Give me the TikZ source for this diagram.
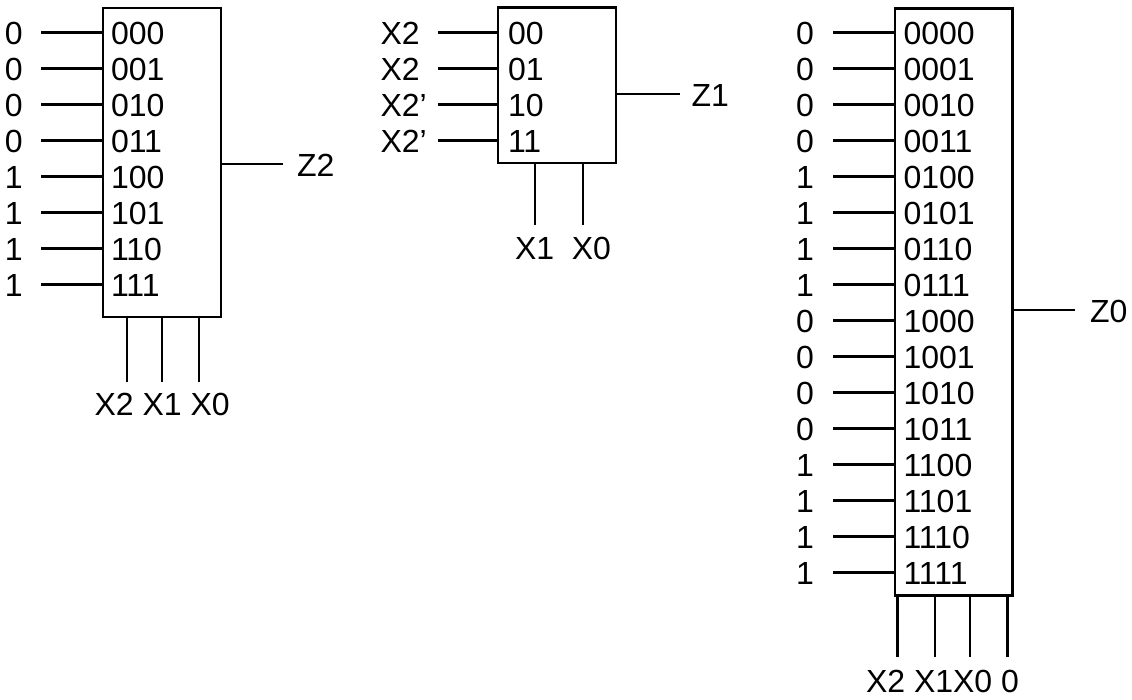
\documentclass[tikz,border=0pt]{standalone}
\usepackage{fontspec}
\setmainfont{Liberation Sans}
\tikzset{
  muxbox/.style={draw, rectangle, line width=2.8pt, inner sep=0pt, outer sep=0pt},
  wire/.style={line width=2.8pt},
  lbl/.style={anchor=west, inner sep=0pt, outer sep=0pt, font=\fontsize{32}{38}\selectfont},
}
\begin{document}
\begin{tikzpicture}[x=1pt, y=-1pt]
\useasboundingbox (0,0) rectangle (1132,700);

% Left multiplexer, output Z2
\node[muxbox, minimum width=118pt, minimum height=309pt] (muxA) at (162, 162.5) {};
\node[lbl] (a0v) at (5, 33) {0};
\draw[wire] (41, 32.5) coordinate (a0) -- (a0 -| muxA.west);
\node[lbl] (a0s) at (111, 33) {000};
\node[lbl] (a1v) at (5, 69) {0};
\draw[wire] (41, 68.5) coordinate (a1) -- (a1 -| muxA.west);
\node[lbl] (a1s) at (111, 69) {001};
\node[lbl] (a2v) at (5, 105) {0};
\draw[wire] (41, 104.5) coordinate (a2) -- (a2 -| muxA.west);
\node[lbl] (a2s) at (111, 105) {010};
\node[lbl] (a3v) at (5, 141) {0};
\draw[wire] (41, 140.5) coordinate (a3) -- (a3 -| muxA.west);
\node[lbl] (a3s) at (111, 141) {011};
\node[lbl] (a4v) at (5, 177) {1};
\draw[wire] (41, 176.5) coordinate (a4) -- (a4 -| muxA.west);
\node[lbl] (a4s) at (111, 177) {100};
\node[lbl] (a5v) at (5, 213) {1};
\draw[wire] (41, 212.5) coordinate (a5) -- (a5 -| muxA.west);
\node[lbl] (a5s) at (111, 213) {101};
\node[lbl] (a6v) at (5, 249) {1};
\draw[wire] (41, 248.5) coordinate (a6) -- (a6 -| muxA.west);
\node[lbl] (a6s) at (111, 249) {110};
\node[lbl] (a7v) at (5, 285) {1};
\draw[wire] (41, 284.5) coordinate (a7) -- (a7 -| muxA.west);
\node[lbl] (a7s) at (111, 285) {111};
\draw[wire] (283, 164) coordinate (aout) -- (aout -| muxA.east);
\node[lbl] (aZ) at (297, 165) {Z2};
\draw[wire] (127, 382) coordinate (aS2) -- (aS2 |- muxA.south);
\draw[wire] (162, 382) coordinate (aS1) -- (aS1 |- muxA.south);
\draw[wire] (199, 382) coordinate (aS0) -- (aS0 |- muxA.south);
\node[lbl] (aSel) at (94.5, 404) {X2 X1 X0};

% Middle multiplexer, output Z1
\node[muxbox, minimum width=118pt, minimum height=155.5pt] (muxB) at (557, 85.25) {};
\node[lbl] (b0v) at (380.5, 33) {X2};
\draw[wire] (438, 32.5) coordinate (b0) -- (b0 -| muxB.west);
\node[lbl] (b0s) at (508, 33) {00};
\node[lbl] (b1v) at (380.5, 69) {X2};
\draw[wire] (438, 68.5) coordinate (b1) -- (b1 -| muxB.west);
\node[lbl] (b1s) at (508, 69) {01};
\node[lbl] (b2v) at (380.5, 105) {X2’};
\draw[wire] (438, 104.5) coordinate (b2) -- (b2 -| muxB.west);
\node[lbl] (b2s) at (508, 105) {10};
\node[lbl] (b3v) at (380.5, 141) {X2’};
\draw[wire] (438, 140.5) coordinate (b3) -- (b3 -| muxB.west);
\node[lbl] (b3s) at (508, 141) {11};
\draw[wire] (680, 94) coordinate (bout) -- (bout -| muxB.east);
\node[lbl] (bZ) at (691.5, 95) {Z1};
\draw[wire] (535, 225) coordinate (bS1) -- (bS1 |- muxB.south);
\draw[wire] (583, 225) coordinate (bS0) -- (bS0 |- muxB.south);
\node[lbl] (bSel) at (515, 248.5) {X1\ \ X0};

% Right multiplexer, output Z0
\node[muxbox, minimum width=117.5pt, minimum height=587pt] (muxC) at (953.75, 301.7) {};
\node[lbl] (c0v) at (796, 33) {0};
\draw[wire] (833, 32.5) coordinate (c0) -- (c0 -| muxC.west);
\node[lbl] (c0s) at (903.5, 33) {0000};
\node[lbl] (c1v) at (796, 69) {0};
\draw[wire] (833, 68.5) coordinate (c1) -- (c1 -| muxC.west);
\node[lbl] (c1s) at (903.5, 69) {0001};
\node[lbl] (c2v) at (796, 105) {0};
\draw[wire] (833, 104.5) coordinate (c2) -- (c2 -| muxC.west);
\node[lbl] (c2s) at (903.5, 105) {0010};
\node[lbl] (c3v) at (796, 141) {0};
\draw[wire] (833, 140.5) coordinate (c3) -- (c3 -| muxC.west);
\node[lbl] (c3s) at (903.5, 141) {0011};
\node[lbl] (c4v) at (796, 177) {1};
\draw[wire] (833, 176.5) coordinate (c4) -- (c4 -| muxC.west);
\node[lbl] (c4s) at (903.5, 177) {0100};
\node[lbl] (c5v) at (796, 213) {1};
\draw[wire] (833, 212.5) coordinate (c5) -- (c5 -| muxC.west);
\node[lbl] (c5s) at (903.5, 213) {0101};
\node[lbl] (c6v) at (796, 249) {1};
\draw[wire] (833, 248.5) coordinate (c6) -- (c6 -| muxC.west);
\node[lbl] (c6s) at (903.5, 249) {0110};
\node[lbl] (c7v) at (796, 285) {1};
\draw[wire] (833, 284.5) coordinate (c7) -- (c7 -| muxC.west);
\node[lbl] (c7s) at (903.5, 285) {0111};
\node[lbl] (c8v) at (796, 321) {0};
\draw[wire] (833, 320.5) coordinate (c8) -- (c8 -| muxC.west);
\node[lbl] (c8s) at (903.5, 321) {1000};
\node[lbl] (c9v) at (796, 357) {0};
\draw[wire] (833, 356.5) coordinate (c9) -- (c9 -| muxC.west);
\node[lbl] (c9s) at (903.5, 357) {1001};
\node[lbl] (c10v) at (796, 393) {0};
\draw[wire] (833, 392.5) coordinate (c10) -- (c10 -| muxC.west);
\node[lbl] (c10s) at (903.5, 393) {1010};
\node[lbl] (c11v) at (796, 429) {0};
\draw[wire] (833, 428.5) coordinate (c11) -- (c11 -| muxC.west);
\node[lbl] (c11s) at (903.5, 429) {1011};
\node[lbl] (c12v) at (796, 465) {1};
\draw[wire] (833, 464.5) coordinate (c12) -- (c12 -| muxC.west);
\node[lbl] (c12s) at (903.5, 465) {1100};
\node[lbl] (c13v) at (796, 501) {1};
\draw[wire] (833, 500.5) coordinate (c13) -- (c13 -| muxC.west);
\node[lbl] (c13s) at (903.5, 501) {1101};
\node[lbl] (c14v) at (796, 537) {1};
\draw[wire] (833, 536.5) coordinate (c14) -- (c14 -| muxC.west);
\node[lbl] (c14s) at (903.5, 537) {1110};
\node[lbl] (c15v) at (796, 573) {1};
\draw[wire] (833, 572.5) coordinate (c15) -- (c15 -| muxC.west);
\node[lbl] (c15s) at (903.5, 573) {1111};
\draw[wire] (1075, 310) coordinate (cout) -- (cout -| muxC.east);
\node[lbl] (cZ) at (1090, 311) {Z0};
\draw[wire] (897.5, 657) coordinate (cS3) -- (cS3 |- muxC.south);
\draw[wire] (935, 657) coordinate (cS2) -- (cS2 |- muxC.south);
\draw[wire] (970, 657) coordinate (cS1) -- (cS1 |- muxC.south);
\draw[wire] (1007.5, 657) coordinate (cS0) -- (cS0 |- muxC.south);
\node[lbl] (cSel) at (866, 681) {X2 X1X0 0};
\end{tikzpicture}
\end{document}
